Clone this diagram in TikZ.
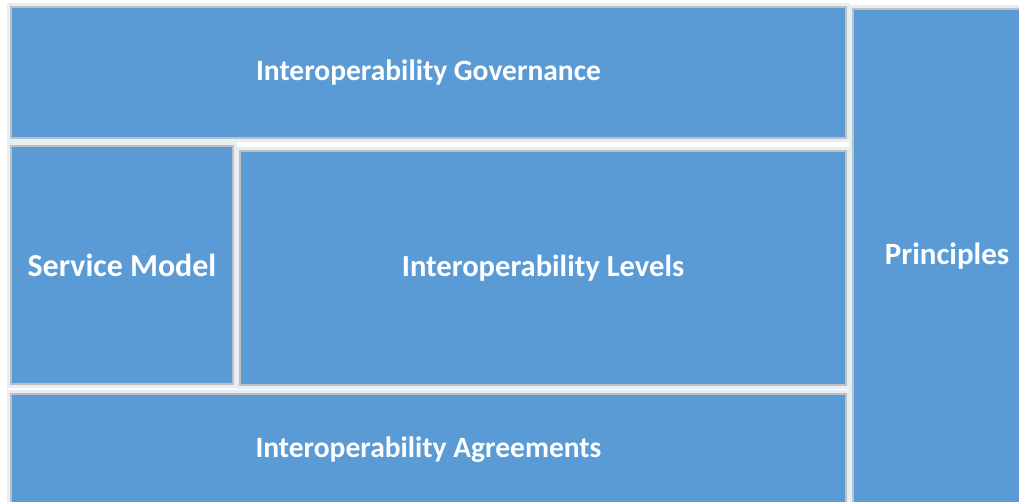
\documentclass[tikz,border=0pt]{standalone}
\usepackage{fontspec}
\setmainfont{Carlito}
\usepackage{xcolor}
\definecolor{boxblue}{HTML}{5B9BD5}
\definecolor{boxline}{HTML}{C0C0C0}
\definecolor{glow}{HTML}{E6EDF5}
\tikzset{
  layer/.style={draw=boxline, line width=1.1pt, fill=boxblue, text=white,
    font=\fontsize{16.8}{20}\selectfont\bfseries, inner sep=0pt,
    preaction={draw=glow, line width=5pt}},
  bigger/.style={font=\fontsize{#1}{20}\selectfont\bfseries},
}

\begin{document}
\begin{tikzpicture}[x=0.02cm,y=-0.02cm]
\useasboundingbox (0,0) rectangle (1019,502);
\clip (0,0) rectangle (1019,502);
\node[layer, minimum width=16.7cm, minimum height=2.62cm] (gov) at (428.5,72.5) {Interoperability Governance};
\node[layer, bigger=18.2, minimum width=4.44cm, minimum height=4.76cm] (service) at (122,265) {Service Model};
\node[layer, bigger=17.4, minimum width=12.12cm, minimum height=4.68cm] (levels) at (543,268) {Interoperability Levels};
\node[layer, minimum width=16.7cm, minimum height=2.24cm] (agree) at (428.5,450) {Interoperability Agreements};
\node[layer, bigger=17.6, minimum width=3.76cm, minimum height=9.88cm] (princ) at (947,256) {Principles};
\end{tikzpicture}
\end{document}
